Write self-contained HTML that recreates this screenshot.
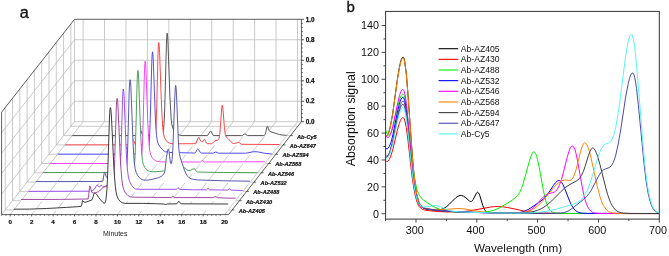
<!DOCTYPE html><html><head><meta charset="utf-8"><style>html,body{margin:0;padding:0;background:#fff;overflow:hidden}svg{display:block;will-change:transform}text{font-family:"Liberation Sans",sans-serif}</style></head><body>
<svg width="669" height="256" viewBox="0 0 669 256">
<g stroke="#b8b8b8" stroke-width="0.75" fill="none"><line x1="83.10" y1="121.70" x2="83.10" y2="19.30"/><line x1="104.54" y1="121.70" x2="104.54" y2="19.30"/><line x1="125.98" y1="121.70" x2="125.98" y2="19.30"/><line x1="147.42" y1="121.70" x2="147.42" y2="19.30"/><line x1="168.86" y1="121.70" x2="168.86" y2="19.30"/><line x1="190.30" y1="121.70" x2="190.30" y2="19.30"/><line x1="211.74" y1="121.70" x2="211.74" y2="19.30"/><line x1="233.18" y1="121.70" x2="233.18" y2="19.30"/><line x1="254.62" y1="121.70" x2="254.62" y2="19.30"/><line x1="276.06" y1="121.70" x2="276.06" y2="19.30"/><line x1="297.50" y1="121.70" x2="297.50" y2="19.30"/><line x1="74.50" y1="121.70" x2="301.40" y2="121.70"/><line x1="74.50" y1="101.22" x2="301.40" y2="101.22"/><line x1="74.50" y1="80.74" x2="301.40" y2="80.74"/><line x1="74.50" y1="60.26" x2="301.40" y2="60.26"/><line x1="74.50" y1="39.78" x2="301.40" y2="39.78"/><line x1="74.50" y1="121.70" x2="74.50" y2="19.30"/><line x1="5.25" y1="209.95" x2="5.25" y2="107.55"/><line x1="5.25" y1="209.95" x2="232.15" y2="209.95"/><line x1="12.54" y1="200.66" x2="12.54" y2="98.26"/><line x1="12.54" y1="200.66" x2="239.44" y2="200.66"/><line x1="19.83" y1="191.38" x2="19.83" y2="88.97"/><line x1="19.83" y1="191.38" x2="246.72" y2="191.38"/><line x1="27.12" y1="182.08" x2="27.12" y2="79.68"/><line x1="27.12" y1="182.08" x2="254.01" y2="182.08"/><line x1="34.41" y1="172.80" x2="34.41" y2="70.39"/><line x1="34.41" y1="172.80" x2="261.31" y2="172.80"/><line x1="41.70" y1="163.50" x2="41.70" y2="61.10"/><line x1="41.70" y1="163.50" x2="268.60" y2="163.50"/><line x1="48.98" y1="154.22" x2="48.98" y2="51.81"/><line x1="48.98" y1="154.22" x2="275.88" y2="154.22"/><line x1="56.27" y1="144.93" x2="56.27" y2="42.52"/><line x1="56.27" y1="144.93" x2="283.18" y2="144.93"/><line x1="63.57" y1="135.63" x2="63.57" y2="33.23"/><line x1="63.57" y1="135.63" x2="290.47" y2="135.63"/><line x1="70.85" y1="126.34" x2="70.85" y2="23.94"/><line x1="70.85" y1="126.34" x2="297.75" y2="126.34"/><line x1="1.60" y1="214.60" x2="74.50" y2="121.70"/><line x1="1.60" y1="194.12" x2="74.50" y2="101.22"/><line x1="1.60" y1="173.64" x2="74.50" y2="80.74"/><line x1="1.60" y1="153.16" x2="74.50" y2="60.26"/><line x1="1.60" y1="132.68" x2="74.50" y2="39.78"/><line x1="10.20" y1="214.60" x2="83.10" y2="121.70"/><line x1="31.64" y1="214.60" x2="104.54" y2="121.70"/><line x1="53.08" y1="214.60" x2="125.98" y2="121.70"/><line x1="74.52" y1="214.60" x2="147.42" y2="121.70"/><line x1="95.96" y1="214.60" x2="168.86" y2="121.70"/><line x1="117.40" y1="214.60" x2="190.30" y2="121.70"/><line x1="138.84" y1="214.60" x2="211.74" y2="121.70"/><line x1="160.28" y1="214.60" x2="233.18" y2="121.70"/><line x1="181.72" y1="214.60" x2="254.62" y2="121.70"/><line x1="203.16" y1="214.60" x2="276.06" y2="121.70"/><line x1="224.60" y1="214.60" x2="297.50" y2="121.70"/></g>
<g stroke="#333" stroke-width="0.8" fill="none"><line x1="1.60" y1="112.20" x2="74.50" y2="19.30"/><line x1="74.50" y1="19.30" x2="301.40" y2="19.30"/><line x1="1.60" y1="112.20" x2="1.60" y2="214.60"/><line x1="1.60" y1="214.60" x2="228.50" y2="214.60"/><line x1="228.50" y1="214.60" x2="301.40" y2="121.70"/><line x1="301.40" y1="121.70" x2="301.40" y2="19.30"/><line x1="1.62" y1="214.60" x2="1.62" y2="215.70"/><line x1="5.91" y1="214.60" x2="5.91" y2="215.70"/><line x1="10.20" y1="214.60" x2="10.20" y2="216.40"/><line x1="14.49" y1="214.60" x2="14.49" y2="215.70"/><line x1="18.78" y1="214.60" x2="18.78" y2="215.70"/><line x1="23.06" y1="214.60" x2="23.06" y2="215.70"/><line x1="27.35" y1="214.60" x2="27.35" y2="215.70"/><line x1="31.64" y1="214.60" x2="31.64" y2="216.40"/><line x1="35.93" y1="214.60" x2="35.93" y2="215.70"/><line x1="40.22" y1="214.60" x2="40.22" y2="215.70"/><line x1="44.50" y1="214.60" x2="44.50" y2="215.70"/><line x1="48.79" y1="214.60" x2="48.79" y2="215.70"/><line x1="53.08" y1="214.60" x2="53.08" y2="216.40"/><line x1="57.37" y1="214.60" x2="57.37" y2="215.70"/><line x1="61.66" y1="214.60" x2="61.66" y2="215.70"/><line x1="65.94" y1="214.60" x2="65.94" y2="215.70"/><line x1="70.23" y1="214.60" x2="70.23" y2="215.70"/><line x1="74.52" y1="214.60" x2="74.52" y2="216.40"/><line x1="78.81" y1="214.60" x2="78.81" y2="215.70"/><line x1="83.10" y1="214.60" x2="83.10" y2="215.70"/><line x1="87.38" y1="214.60" x2="87.38" y2="215.70"/><line x1="91.67" y1="214.60" x2="91.67" y2="215.70"/><line x1="95.96" y1="214.60" x2="95.96" y2="216.40"/><line x1="100.25" y1="214.60" x2="100.25" y2="215.70"/><line x1="104.54" y1="214.60" x2="104.54" y2="215.70"/><line x1="108.82" y1="214.60" x2="108.82" y2="215.70"/><line x1="113.11" y1="214.60" x2="113.11" y2="215.70"/><line x1="117.40" y1="214.60" x2="117.40" y2="216.40"/><line x1="121.69" y1="214.60" x2="121.69" y2="215.70"/><line x1="125.98" y1="214.60" x2="125.98" y2="215.70"/><line x1="130.26" y1="214.60" x2="130.26" y2="215.70"/><line x1="134.55" y1="214.60" x2="134.55" y2="215.70"/><line x1="138.84" y1="214.60" x2="138.84" y2="216.40"/><line x1="143.13" y1="214.60" x2="143.13" y2="215.70"/><line x1="147.42" y1="214.60" x2="147.42" y2="215.70"/><line x1="151.70" y1="214.60" x2="151.70" y2="215.70"/><line x1="155.99" y1="214.60" x2="155.99" y2="215.70"/><line x1="160.28" y1="214.60" x2="160.28" y2="216.40"/><line x1="164.57" y1="214.60" x2="164.57" y2="215.70"/><line x1="168.86" y1="214.60" x2="168.86" y2="215.70"/><line x1="173.14" y1="214.60" x2="173.14" y2="215.70"/><line x1="177.43" y1="214.60" x2="177.43" y2="215.70"/><line x1="181.72" y1="214.60" x2="181.72" y2="216.40"/><line x1="186.01" y1="214.60" x2="186.01" y2="215.70"/><line x1="190.30" y1="214.60" x2="190.30" y2="215.70"/><line x1="194.58" y1="214.60" x2="194.58" y2="215.70"/><line x1="198.87" y1="214.60" x2="198.87" y2="215.70"/><line x1="203.16" y1="214.60" x2="203.16" y2="216.40"/><line x1="207.45" y1="214.60" x2="207.45" y2="215.70"/><line x1="211.74" y1="214.60" x2="211.74" y2="215.70"/><line x1="216.02" y1="214.60" x2="216.02" y2="215.70"/><line x1="220.31" y1="214.60" x2="220.31" y2="215.70"/><line x1="301.40" y1="121.70" x2="304.00" y2="121.70"/><line x1="301.40" y1="117.60" x2="302.70" y2="117.60"/><line x1="301.40" y1="113.51" x2="302.70" y2="113.51"/><line x1="301.40" y1="109.41" x2="302.70" y2="109.41"/><line x1="301.40" y1="105.32" x2="302.70" y2="105.32"/><line x1="301.40" y1="101.22" x2="304.00" y2="101.22"/><line x1="301.40" y1="97.12" x2="302.70" y2="97.12"/><line x1="301.40" y1="93.03" x2="302.70" y2="93.03"/><line x1="301.40" y1="88.93" x2="302.70" y2="88.93"/><line x1="301.40" y1="84.84" x2="302.70" y2="84.84"/><line x1="301.40" y1="80.74" x2="304.00" y2="80.74"/><line x1="301.40" y1="76.64" x2="302.70" y2="76.64"/><line x1="301.40" y1="72.55" x2="302.70" y2="72.55"/><line x1="301.40" y1="68.45" x2="302.70" y2="68.45"/><line x1="301.40" y1="64.36" x2="302.70" y2="64.36"/><line x1="301.40" y1="60.26" x2="304.00" y2="60.26"/><line x1="301.40" y1="56.16" x2="302.70" y2="56.16"/><line x1="301.40" y1="52.07" x2="302.70" y2="52.07"/><line x1="301.40" y1="47.97" x2="302.70" y2="47.97"/><line x1="301.40" y1="43.88" x2="302.70" y2="43.88"/><line x1="301.40" y1="39.78" x2="304.00" y2="39.78"/><line x1="301.40" y1="35.68" x2="302.70" y2="35.68"/><line x1="301.40" y1="31.59" x2="302.70" y2="31.59"/><line x1="301.40" y1="27.49" x2="302.70" y2="27.49"/><line x1="301.40" y1="23.40" x2="302.70" y2="23.40"/><line x1="301.40" y1="19.30" x2="304.00" y2="19.30"/><line x1="232.15" y1="209.95" x2="234.34" y2="209.95"/><line x1="239.44" y1="200.66" x2="241.63" y2="200.66"/><line x1="246.72" y1="191.38" x2="248.92" y2="191.38"/><line x1="254.01" y1="182.08" x2="256.21" y2="182.08"/><line x1="261.31" y1="172.80" x2="263.50" y2="172.80"/><line x1="268.60" y1="163.50" x2="270.80" y2="163.50"/><line x1="275.88" y1="154.22" x2="278.08" y2="154.22"/><line x1="283.18" y1="144.93" x2="285.38" y2="144.93"/><line x1="290.47" y1="135.63" x2="292.67" y2="135.63"/></g>
<g font-size="6.2" font-weight="bold" fill="#111" stroke="#111" stroke-width="0.2"><text x="10.20" y="223.9" text-anchor="middle">0</text><text x="31.64" y="223.9" text-anchor="middle">2</text><text x="53.08" y="223.9" text-anchor="middle">4</text><text x="74.52" y="223.9" text-anchor="middle">6</text><text x="95.96" y="223.9" text-anchor="middle">8</text><text x="117.40" y="223.9" text-anchor="middle">10</text><text x="138.84" y="223.9" text-anchor="middle">12</text><text x="160.28" y="223.9" text-anchor="middle">14</text><text x="181.72" y="223.9" text-anchor="middle">16</text><text x="203.16" y="223.9" text-anchor="middle">18</text><text x="224.60" y="223.9" text-anchor="middle">20</text></g>
<g font-size="6.3" font-weight="bold" fill="#111" stroke="#111" stroke-width="0.25"><text x="305.8" y="123.90">0.0</text><text x="305.8" y="103.42">0.2</text><text x="305.8" y="82.94">0.4</text><text x="305.8" y="62.46">0.6</text><text x="305.8" y="41.98">0.8</text><text x="305.8" y="21.50">1.0</text></g>
<g font-size="5.6" font-weight="bold" font-style="italic" fill="#111" stroke="#111" stroke-width="0.2"><text x="238.75" y="212.85">Ab-AZ405</text><text x="246.03" y="203.56">Ab-AZ430</text><text x="253.32" y="194.28">Ab-AZ488</text><text x="260.62" y="184.98">Ab-AZ532</text><text x="267.91" y="175.70">Ab-AZ546</text><text x="275.20" y="166.41">Ab-AZ568</text><text x="282.49" y="157.12">Ab-AZ594</text><text x="289.78" y="147.83">Ab-AZ647</text><text x="297.07" y="138.53">Ab-Cy5</text></g>
<text x="103" y="235.8" font-size="7" fill="#222">Minutes</text>
<text x="19.8" y="17.6" font-size="16.3" fill="#111" stroke="#111" stroke-width="0.35">a</text>
<g><path d="M72.2 135.6L138.6 135.6L139.2 134.9L140.4 131.3L140.9 130.6L141.4 131.6L142.5 135.1L142.9 135.6L160.1 135.0L161.5 134.8L162.3 134.3L163.0 132.8L163.6 129.7L164.4 118.0L165.0 98.5L166.4 45.1L166.8 35.6L166.9 34.0L167.2 33.2L167.6 36.2L168.0 43.4L169.9 96.8L171.1 118.1L171.7 123.9L172.7 127.9L174.1 130.9L176.4 133.4L177.6 134.3L179.0 134.9L181.9 135.6L207.2 135.6L208.0 135.0L209.9 131.5L210.6 131.0L211.4 131.8L213.0 135.1L213.7 135.6L241.5 135.6L242.2 135.5L244.0 134.3L244.8 134.0L245.4 134.2L247.2 135.4L247.8 135.6L263.4 135.6L264.5 135.3L265.1 134.4L265.7 132.8L266.9 127.0L267.1 126.4L267.4 126.2L267.8 126.8L269.0 130.5L269.4 131.1L269.9 131.5L279.6 134.6L282.8 135.1L286.6 135.3 L286.56,136.44 L72.17,136.44 Z" fill="#fff" stroke="none"/><path d="M72.2 135.6L138.6 135.6L139.2 134.9L140.4 131.3L140.9 130.6L141.4 131.6L142.5 135.1L142.9 135.6L160.1 135.0L161.5 134.8L162.3 134.3L163.0 132.8L163.6 129.7L164.4 118.0L165.0 98.5L166.4 45.1L166.8 35.6L166.9 34.0L167.2 33.2L167.6 36.2L168.0 43.4L169.9 96.8L171.1 118.1L171.7 123.9L172.7 127.9L174.1 130.9L176.4 133.4L177.6 134.3L179.0 134.9L181.9 135.6L207.2 135.6L208.0 135.0L209.9 131.5L210.6 131.0L211.4 131.8L213.0 135.1L213.7 135.6L241.5 135.6L242.2 135.5L244.0 134.3L244.8 134.0L245.4 134.2L247.2 135.4L247.8 135.6L263.4 135.6L264.5 135.3L265.1 134.4L265.7 132.8L266.9 127.0L267.1 126.4L267.4 126.2L267.8 126.8L269.0 130.5L269.4 131.1L269.9 131.5L279.6 134.6L282.8 135.1L286.6 135.3" fill="none" stroke="#444444" stroke-width="0.9" stroke-linejoin="round"/><path d="M64.9 144.9L131.3 144.9L131.7 144.5L132.8 141.4L133.3 140.6L133.9 141.2L135.1 144.3L135.6 144.9L142.2 144.8L151.8 144.2L153.2 144.0L154.0 143.5L154.7 142.0L155.2 138.9L156.0 127.2L156.7 107.7L158.0 54.4L158.4 44.9L158.5 43.3L158.8 42.5L159.2 45.5L159.6 52.6L161.5 106.0L162.7 127.4L163.4 133.1L164.3 137.2L165.6 139.9L167.5 142.1L169.7 143.3L172.6 143.8L195.7 143.7L196.3 142.9L197.9 138.4L198.6 137.6L199.1 137.9L200.6 140.9L201.3 141.5L202.6 141.8L203.8 139.7L204.4 139.4L205.0 140.1L206.5 142.9L207.2 143.7L211.2 143.8L212.3 143.3L215.0 140.8L217.4 140.4L218.0 140.1L218.6 139.5L219.1 138.2L219.8 134.2L221.7 108.9L222.1 105.7L222.3 105.2L222.6 106.1L223.0 109.7L224.5 129.2L225.3 134.6L225.7 135.9L226.3 137.1L228.2 138.7L230.9 141.7L232.2 142.9L233.2 143.4L234.0 143.5L238.7 142.4L239.3 142.7L241.1 144.1L241.8 144.3L279.3 144.5 L279.27,145.73 L64.88,145.73 Z" fill="#fff" stroke="none"/><path d="M64.9 144.9L131.3 144.9L131.7 144.5L132.8 141.4L133.3 140.6L133.9 141.2L135.1 144.3L135.6 144.9L142.2 144.8L151.8 144.2L153.2 144.0L154.0 143.5L154.7 142.0L155.2 138.9L156.0 127.2L156.7 107.7L158.0 54.4L158.4 44.9L158.5 43.3L158.8 42.5L159.2 45.5L159.6 52.6L161.5 106.0L162.7 127.4L163.4 133.1L164.3 137.2L165.6 139.9L167.5 142.1L169.7 143.3L172.6 143.8L195.7 143.7L196.3 142.9L197.9 138.4L198.6 137.6L199.1 137.9L200.6 140.9L201.3 141.5L202.6 141.8L203.8 139.7L204.4 139.4L205.0 140.1L206.5 142.9L207.2 143.7L211.2 143.8L212.3 143.3L215.0 140.8L217.4 140.4L218.0 140.1L218.6 139.5L219.1 138.2L219.8 134.2L221.7 108.9L222.1 105.7L222.3 105.2L222.6 106.1L223.0 109.7L224.5 129.2L225.3 134.6L225.7 135.9L226.3 137.1L228.2 138.7L230.9 141.7L232.2 142.9L233.2 143.4L234.0 143.5L238.7 142.4L239.3 142.7L241.1 144.1L241.8 144.3L279.3 144.5" fill="none" stroke="#f83434" stroke-width="0.9" stroke-linejoin="round"/><path d="M57.6 154.2L124.3 154.2L124.6 154.0L124.9 153.3L125.9 148.4L126.5 147.1L126.7 147.2L127.0 147.8L128.3 153.3L128.9 154.2L145.4 153.6L146.8 153.4L147.6 152.9L148.3 151.5L148.8 148.5L149.6 137.2L150.3 118.2L151.7 64.9L152.1 54.9L152.5 51.8L152.9 54.2L153.3 60.9L155.3 116.1L155.8 126.6L156.5 135.3L157.3 140.8L158.2 143.9L160.2 147.1L162.9 150.1L164.2 151.1L165.7 151.8L167.3 152.2L169.2 152.5L194.8 153.0L195.5 152.5L197.1 149.5L197.7 149.1L198.6 149.7L200.4 152.6L201.2 153.1L213.2 153.2L215.3 152.1L216.0 152.0L218.4 153.2L245.5 153.2L247.7 152.9L252.8 151.8L255.1 151.7L257.9 151.9L264.2 153.2L272.0 154.0 L271.99,155.02 L57.58,155.02 Z" fill="#fff" stroke="none"/><path d="M57.6 154.2L124.3 154.2L124.6 154.0L124.9 153.3L125.9 148.4L126.5 147.1L126.7 147.2L127.0 147.8L128.3 153.3L128.9 154.2L145.4 153.6L146.8 153.4L147.6 152.9L148.3 151.5L148.8 148.5L149.6 137.2L150.3 118.2L151.7 64.9L152.1 54.9L152.5 51.8L152.9 54.2L153.3 60.9L155.3 116.1L155.8 126.6L156.5 135.3L157.3 140.8L158.2 143.9L160.2 147.1L162.9 150.1L164.2 151.1L165.7 151.8L167.3 152.2L169.2 152.5L194.8 153.0L195.5 152.5L197.1 149.5L197.7 149.1L198.6 149.7L200.4 152.6L201.2 153.1L213.2 153.2L215.3 152.1L216.0 152.0L218.4 153.2L245.5 153.2L247.7 152.9L252.8 151.8L255.1 151.7L257.9 151.9L264.2 153.2L272.0 154.0" fill="none" stroke="#3c3cf8" stroke-width="0.9" stroke-linejoin="round"/><path d="M50.3 163.5L116.8 163.5L117.2 163.0L118.4 159.2L118.9 158.4L119.3 158.9L120.5 162.7L121.0 163.5L137.9 162.9L139.5 162.7L140.3 162.2L141.0 160.8L141.5 157.9L142.4 146.6L143.0 127.5L144.4 74.0L144.8 64.0L145.2 61.1L145.6 63.7L146.0 70.5L147.8 123.6L149.1 145.0L149.7 150.7L150.7 154.7L152.1 157.5L154.3 159.9L155.8 160.9L157.4 161.5L159.4 161.8L162.2 161.9L200.4 162.0L200.8 161.8L202.3 160.4L202.8 160.6L204.1 161.8L204.7 162.0L264.7 161.7 L264.69,164.31 L50.30,164.31 Z" fill="#fff" stroke="none"/><path d="M50.3 163.5L116.8 163.5L117.2 163.0L118.4 159.2L118.9 158.4L119.3 158.9L120.5 162.7L121.0 163.5L137.9 162.9L139.5 162.7L140.3 162.2L141.0 160.8L141.5 157.9L142.4 146.6L143.0 127.5L144.4 74.0L144.8 64.0L145.2 61.1L145.6 63.7L146.0 70.5L147.8 123.6L149.1 145.0L149.7 150.7L150.7 154.7L152.1 157.5L154.3 159.9L155.8 160.9L157.4 161.5L159.4 161.8L162.2 161.9L200.4 162.0L200.8 161.8L202.3 160.4L202.8 160.6L204.1 161.8L204.7 162.0L264.7 161.7" fill="none" stroke="#f035f0" stroke-width="0.9" stroke-linejoin="round"/><path d="M43.0 172.5L109.5 172.5L110.0 171.7L111.2 168.1L111.6 167.7L112.0 168.1L113.2 171.7L113.8 172.5L131.0 172.4L132.4 172.2L133.1 171.8L133.7 170.4L134.3 167.5L135.1 156.2L135.7 137.0L137.1 83.3L137.5 73.3L137.9 70.4L138.3 73.0L138.7 79.9L140.6 133.2L141.8 154.8L142.4 160.5L143.4 164.6L144.8 167.4L147.0 169.9L148.2 170.7L149.4 171.3L152.3 171.8L156.0 171.7L164.4 171.0L181.3 171.3L182.1 170.8L184.0 168.1L184.8 167.7L185.4 168.2L186.9 170.1L188.8 170.6L190.1 170.5L193.1 168.9L194.3 168.7L195.0 169.3L196.6 171.5L197.4 172.0L223.4 172.5L257.4 172.7 L257.40,173.60 L43.00,173.60 Z" fill="#fff" stroke="none"/><path d="M43.0 172.5L109.5 172.5L110.0 171.7L111.2 168.1L111.6 167.7L112.0 168.1L113.2 171.7L113.8 172.5L131.0 172.4L132.4 172.2L133.1 171.8L133.7 170.4L134.3 167.5L135.1 156.2L135.7 137.0L137.1 83.3L137.5 73.3L137.9 70.4L138.3 73.0L138.7 79.9L140.6 133.2L141.8 154.8L142.4 160.5L143.4 164.6L144.8 167.4L147.0 169.9L148.2 170.7L149.4 171.3L152.3 171.8L156.0 171.7L164.4 171.0L181.3 171.3L182.1 170.8L184.0 168.1L184.8 167.7L185.4 168.2L186.9 170.1L188.8 170.6L190.1 170.5L193.1 168.9L194.3 168.7L195.0 169.3L196.6 171.5L197.4 172.0L223.4 172.5L257.4 172.7" fill="none" stroke="#389846" stroke-width="0.9" stroke-linejoin="round"/><path d="M35.7 181.6L102.4 181.5L102.7 181.2L103.0 180.2L104.2 173.2L104.6 172.5L105.0 173.1L106.1 176.4L107.4 178.3L108.3 179.0L123.1 179.0L124.3 178.9L125.0 178.4L125.6 177.1L126.2 174.4L127.1 162.1L127.8 144.3L129.2 91.2L129.6 82.5L130.1 79.7L130.5 81.6L130.9 87.4L133.0 142.1L133.7 154.5L134.3 162.8L135.1 168.6L136.2 172.5L137.8 175.6L139.0 177.1L140.2 178.3L142.0 179.5L143.7 180.1L145.7 180.2L148.4 180.0L152.7 179.2L158.3 177.8L161.0 176.6L162.7 175.3L163.8 173.8L164.8 171.8L166.4 157.3L167.6 151.0L168.0 149.6L168.4 149.0L168.6 149.3L168.9 150.6L170.4 162.5L170.9 163.7L171.2 163.8L171.5 163.4L172.1 159.6L172.8 150.1L174.8 97.2L175.3 87.9L175.7 85.4L176.1 88.0L176.5 95.2L178.3 139.7L178.8 148.2L179.4 153.4L180.3 158.0L184.1 169.1L185.8 173.3L187.5 176.2L189.1 177.8L191.0 178.8L193.4 179.4L197.3 179.9L223.6 180.8L250.1 181.2 L250.12,182.88 L35.72,182.88 Z" fill="#fff" stroke="none"/><path d="M35.7 181.6L102.4 181.5L102.7 181.2L103.0 180.2L104.2 173.2L104.6 172.5L105.0 173.1L106.1 176.4L107.4 178.3L108.3 179.0L123.1 179.0L124.3 178.9L125.0 178.4L125.6 177.1L126.2 174.4L127.1 162.1L127.8 144.3L129.2 91.2L129.6 82.5L130.1 79.7L130.5 81.6L130.9 87.4L133.0 142.1L133.7 154.5L134.3 162.8L135.1 168.6L136.2 172.5L137.8 175.6L139.0 177.1L140.2 178.3L142.0 179.5L143.7 180.1L145.7 180.2L148.4 180.0L152.7 179.2L158.3 177.8L161.0 176.6L162.7 175.3L163.8 173.8L164.8 171.8L166.4 157.3L167.6 151.0L168.0 149.6L168.4 149.0L168.6 149.3L168.9 150.6L170.4 162.5L170.9 163.7L171.2 163.8L171.5 163.4L172.1 159.6L172.8 150.1L174.8 97.2L175.3 87.9L175.7 85.4L176.1 88.0L176.5 95.2L178.3 139.7L178.8 148.2L179.4 153.4L180.3 158.0L184.1 169.1L185.8 173.3L187.5 176.2L189.1 177.8L191.0 178.8L193.4 179.4L197.3 179.9L223.6 180.8L250.1 181.2" fill="none" stroke="#4646a6" stroke-width="0.9" stroke-linejoin="round"/><path d="M28.4 191.4L91.7 191.2L92.5 190.9L93.5 189.9L95.2 187.9L96.6 185.4L97.2 184.9L97.6 185.1L98.5 186.6L98.9 187.0L99.6 186.8L100.9 185.6L101.6 185.3L102.0 185.5L103.1 186.6L103.5 186.8L104.3 186.6L106.7 185.3L112.7 185.2L117.3 185.8L117.9 185.7L118.3 185.4L119.0 183.8L119.5 180.7L120.3 169.7L121.0 152.3L122.5 100.2L122.9 91.7L123.3 89.0L123.7 90.9L124.1 96.6L126.2 150.7L126.9 163.0L127.6 171.2L128.4 177.0L129.6 181.4L131.3 184.8L132.8 186.8L134.2 188.2L135.6 189.0L138.4 189.3L176.4 189.3L178.0 187.6L178.4 187.9L179.4 189.3L182.0 189.4L192.6 189.8L206.4 189.8L208.0 188.3L209.6 189.8L227.8 190.1L228.9 189.0L229.3 188.8L231.0 190.1L242.8 190.5 L242.82,192.18 L28.43,192.18 Z" fill="#fff" stroke="none"/><path d="M28.4 191.4L91.7 191.2L92.5 190.9L93.5 189.9L95.2 187.9L96.6 185.4L97.2 184.9L97.6 185.1L98.5 186.6L98.9 187.0L99.6 186.8L100.9 185.6L101.6 185.3L102.0 185.5L103.1 186.6L103.5 186.8L104.3 186.6L106.7 185.3L112.7 185.2L117.3 185.8L117.9 185.7L118.3 185.4L119.0 183.8L119.5 180.7L120.3 169.7L121.0 152.3L122.5 100.2L122.9 91.7L123.3 89.0L123.7 90.9L124.1 96.6L126.2 150.7L126.9 163.0L127.6 171.2L128.4 177.0L129.6 181.4L131.3 184.8L132.8 186.8L134.2 188.2L135.6 189.0L138.4 189.3L176.4 189.3L178.0 187.6L178.4 187.9L179.4 189.3L182.0 189.4L192.6 189.8L206.4 189.8L208.0 188.3L209.6 189.8L227.8 190.1L228.9 189.0L229.3 188.8L231.0 190.1L242.8 190.5" fill="none" stroke="#9040ee" stroke-width="0.9" stroke-linejoin="round"/><path d="M21.1 199.5L59.6 199.4L88.1 199.0L88.5 197.2L89.5 187.5L89.9 185.9L90.4 187.1L91.6 192.0L91.9 192.5L93.1 193.0L95.6 192.7L98.7 191.6L99.5 191.0L101.8 188.4L103.8 187.1L105.2 186.7L106.5 186.7L108.1 187.3L110.2 188.4L111.7 189.9L112.3 189.9L112.8 188.6L113.2 186.2L114.0 175.6L114.7 159.4L116.3 108.0L116.7 100.6L117.1 98.3L117.5 99.8L118.0 106.5L120.4 160.8L121.8 179.4L122.6 185.1L123.6 189.3L125.3 192.6L127.4 195.1L128.9 196.1L130.6 196.8L132.4 197.1L134.9 197.2L171.2 197.6L172.7 196.1L173.1 196.2L174.0 197.4L174.4 197.6L213.0 197.6L215.2 196.6L217.4 197.6L225.8 198.1L235.5 198.2 L235.53,201.47 L21.13,201.47 Z" fill="#fff" stroke="none"/><path d="M21.1 199.5L59.6 199.4L88.1 199.0L88.5 197.2L89.5 187.5L89.9 185.9L90.4 187.1L91.6 192.0L91.9 192.5L93.1 193.0L95.6 192.7L98.7 191.6L99.5 191.0L101.8 188.4L103.8 187.1L105.2 186.7L106.5 186.7L108.1 187.3L110.2 188.4L111.7 189.9L112.3 189.9L112.8 188.6L113.2 186.2L114.0 175.6L114.7 159.4L116.3 108.0L116.7 100.6L117.1 98.3L117.5 99.8L118.0 106.5L120.4 160.8L121.8 179.4L122.6 185.1L123.6 189.3L125.3 192.6L127.4 195.1L128.9 196.1L130.6 196.8L132.4 197.1L134.9 197.2L171.2 197.6L172.7 196.1L173.1 196.2L174.0 197.4L174.4 197.6L213.0 197.6L215.2 196.6L217.4 197.6L225.8 198.1L235.5 198.2" fill="none" stroke="#963696" stroke-width="0.9" stroke-linejoin="round"/><path d="M13.8 209.2L29.7 209.1L46.4 208.5L66.4 207.4L77.6 206.7L80.0 206.4L81.4 206.1L81.5 205.8L82.5 200.5L83.0 200.9L84.1 202.1L84.6 202.3L86.2 202.0L91.7 200.1L92.4 198.8L94.0 193.8L94.6 193.0L95.5 193.2L96.4 194.1L99.7 198.9L102.8 202.3L104.0 203.2L104.6 203.2L105.0 202.9L105.5 201.7L106.0 199.2L107.0 188.5L107.8 170.1L109.4 120.0L109.9 109.9L110.3 107.6L110.6 107.9L110.9 109.5L111.4 116.0L113.8 166.0L114.5 176.9L115.3 186.3L116.1 192.2L117.2 196.6L118.5 199.4L120.5 201.7L122.7 202.9L125.3 203.4L142.6 203.4L155.6 203.7L163.9 204.0L165.7 204.6L167.1 204.0L176.8 203.8L177.2 203.5L178.3 201.7L178.8 201.3L179.3 201.6L180.5 203.4L181.1 203.8L228.2 204.0 L228.25,210.75 L13.84,210.75 Z" fill="#fff" stroke="none"/><path d="M13.8 209.2L29.7 209.1L46.4 208.5L66.4 207.4L77.6 206.7L80.0 206.4L81.4 206.1L81.5 205.8L82.5 200.5L83.0 200.9L84.1 202.1L84.6 202.3L86.2 202.0L91.7 200.1L92.4 198.8L94.0 193.8L94.6 193.0L95.5 193.2L96.4 194.1L99.7 198.9L102.8 202.3L104.0 203.2L104.6 203.2L105.0 202.9L105.5 201.7L106.0 199.2L107.0 188.5L107.8 170.1L109.4 120.0L109.9 109.9L110.3 107.6L110.6 107.9L110.9 109.5L111.4 116.0L113.8 166.0L114.5 176.9L115.3 186.3L116.1 192.2L117.2 196.6L118.5 199.4L120.5 201.7L122.7 202.9L125.3 203.4L142.6 203.4L155.6 203.7L163.9 204.0L165.7 204.6L167.1 204.0L176.8 203.8L177.2 203.5L178.3 201.7L178.8 201.3L179.3 201.6L180.5 203.4L181.1 203.8L228.2 204.0" fill="none" stroke="#262626" stroke-width="0.9" stroke-linejoin="round"/></g>
<rect x="385.60" y="11.40" width="273.70" height="207.70" fill="none" stroke="#333" stroke-width="1"/><g stroke="#333" stroke-width="0.9"><line x1="381.60" y1="213.75" x2="385.60" y2="213.75"/><line x1="383.40" y1="200.30" x2="385.60" y2="200.30"/><line x1="381.60" y1="186.86" x2="385.60" y2="186.86"/><line x1="383.40" y1="173.41" x2="385.60" y2="173.41"/><line x1="381.60" y1="159.97" x2="385.60" y2="159.97"/><line x1="383.40" y1="146.52" x2="385.60" y2="146.52"/><line x1="381.60" y1="133.07" x2="385.60" y2="133.07"/><line x1="383.40" y1="119.63" x2="385.60" y2="119.63"/><line x1="381.60" y1="106.18" x2="385.60" y2="106.18"/><line x1="383.40" y1="92.74" x2="385.60" y2="92.74"/><line x1="381.60" y1="79.29" x2="385.60" y2="79.29"/><line x1="383.40" y1="65.84" x2="385.60" y2="65.84"/><line x1="381.60" y1="52.40" x2="385.60" y2="52.40"/><line x1="383.40" y1="38.95" x2="385.60" y2="38.95"/><line x1="381.60" y1="25.51" x2="385.60" y2="25.51"/><line x1="385.59" y1="219.10" x2="385.59" y2="221.10"/><line x1="416.00" y1="219.10" x2="416.00" y2="222.70"/><line x1="446.41" y1="219.10" x2="446.41" y2="221.10"/><line x1="476.82" y1="219.10" x2="476.82" y2="222.70"/><line x1="507.24" y1="219.10" x2="507.24" y2="221.10"/><line x1="537.65" y1="219.10" x2="537.65" y2="222.70"/><line x1="568.06" y1="219.10" x2="568.06" y2="221.10"/><line x1="598.48" y1="219.10" x2="598.48" y2="222.70"/><line x1="628.89" y1="219.10" x2="628.89" y2="221.10"/><line x1="659.30" y1="219.10" x2="659.30" y2="222.70"/></g><g font-size="10.8" fill="#111"><text x="379" y="217.55" text-anchor="end">0</text><text x="379" y="190.66" text-anchor="end">20</text><text x="379" y="163.77" text-anchor="end">40</text><text x="379" y="136.87" text-anchor="end">60</text><text x="379" y="109.98" text-anchor="end">80</text><text x="379" y="83.09" text-anchor="end">100</text><text x="379" y="56.20" text-anchor="end">120</text><text x="379" y="29.31" text-anchor="end">140</text><text x="414.80" y="234.3" text-anchor="middle">300</text><text x="475.62" y="234.3" text-anchor="middle">400</text><text x="536.45" y="234.3" text-anchor="middle">500</text><text x="597.27" y="234.3" text-anchor="middle">600</text><text x="658.10" y="234.3" text-anchor="middle">700</text></g><text x="474" y="251.8" font-size="11.65" fill="#111">Wavelength (nm)</text><text transform="translate(355,166.3) rotate(-90)" font-size="12.4" fill="#111">Absorption signal</text><text x="346.6" y="11.6" font-size="15" fill="#111" stroke="#111" stroke-width="0.3">b</text>
<clipPath id="cb"><rect x="385.60" y="11.40" width="273.70" height="207.70"/></clipPath><g clip-path="url(#cb)"><path d="M385.6 135.5L386.5 135.8L387.1 135.5L387.7 134.8L388.9 132.0L390.1 127.6L392.6 114.3L397.4 79.3L399.3 67.9L400.5 62.2L401.4 59.3L402.3 57.6L402.9 57.2L403.2 57.2L403.8 57.9L404.1 58.6L404.7 61.2L406.3 73.5L407.8 92.0L412.4 156.9L413.9 173.6L415.1 184.0L416.6 193.6L418.4 200.8L419.3 203.2L420.6 205.3L421.8 206.8L423.0 207.7L424.5 208.4L426.6 209.1L432.7 210.0L437.6 210.1L441.5 209.3L444.0 208.3L446.4 206.8L449.1 204.4L455.8 197.7L458.0 196.2L460.1 195.4L461.6 195.5L463.4 196.1L465.3 197.3L469.5 201.0L470.4 201.4L471.4 201.4L472.3 200.8L473.2 199.6L476.5 193.0L477.1 192.4L477.7 192.2L478.6 193.0L479.6 194.9L482.9 205.8L484.4 209.4L485.3 210.8L486.6 211.9L487.8 212.5L489.3 212.8L499.6 213.1L535.5 213.4L659.3 213.6" fill="none" stroke="#000000" stroke-width="1.0" stroke-linejoin="round"/><path d="M385.6 160.8L386.2 161.3L386.8 161.5L387.4 161.4L388.0 161.1L389.2 159.6L390.5 157.0L392.9 149.2L397.4 130.1L399.3 123.5L400.5 120.3L401.4 118.6L402.3 117.7L403.2 117.6L403.8 118.0L404.1 118.5L404.7 120.1L406.3 127.6L407.8 139.0L412.0 176.1L413.6 186.7L415.1 194.9L416.6 200.8L418.4 205.2L419.3 206.7L420.6 208.0L421.8 208.9L423.3 209.6L425.4 210.2L428.2 210.6L437.9 211.5L448.5 212.0L458.0 211.9L464.1 211.5L469.8 210.8L490.2 207.1L494.5 206.6L498.4 206.5L502.7 206.8L507.5 207.5L523.1 210.8L529.7 212.0L536.4 212.8L543.7 213.2L564.4 213.5L659.3 213.6" fill="none" stroke="#ff0000" stroke-width="1.0" stroke-linejoin="round"/><path d="M385.6 130.0L386.8 133.2L388.0 134.8L388.6 135.0L389.2 134.8L389.8 134.3L390.8 132.9L392.0 129.9L393.2 125.9L398.1 105.2L399.9 98.8L401.1 95.8L402.0 94.4L402.9 94.0L403.8 94.5L404.4 95.8L405.4 99.5L406.9 109.9L411.4 154.3L413.6 172.0L415.4 182.8L417.2 190.1L418.4 193.4L419.6 195.7L421.2 197.8L423.3 199.9L427.6 202.9L433.0 206.3L437.0 208.3L440.9 209.7L444.0 210.6L447.3 211.2L455.8 212.0L472.3 212.5L478.3 212.5L483.2 212.3L489.3 211.4L494.5 210.0L499.6 207.8L505.1 204.7L512.4 200.0L515.4 197.7L517.9 195.2L519.7 192.4L521.5 188.4L523.4 182.9L529.4 161.1L531.0 156.3L532.5 152.9L533.4 151.9L534.0 151.7L534.9 152.3L535.8 153.8L536.7 156.3L537.6 159.8L539.2 167.1L543.4 190.5L544.9 197.4L546.2 201.9L547.4 205.4L548.9 208.5L550.7 210.9L552.6 212.2L554.1 212.8L555.6 213.1L560.8 213.4L659.3 213.5" fill="none" stroke="#00ee00" stroke-width="1.0" stroke-linejoin="round"/><path d="M385.6 147.9L386.2 148.6L386.8 148.8L387.4 148.8L388.0 148.4L389.2 146.7L390.5 143.8L391.7 139.7L392.9 134.7L397.4 112.2L399.3 104.4L400.2 101.4L401.1 99.2L402.0 97.8L402.9 97.4L403.8 98.0L404.7 100.6L406.3 109.6L407.8 123.1L412.0 167.5L413.6 180.3L415.1 190.1L416.6 197.1L418.4 202.4L419.3 204.2L420.6 205.8L421.8 206.9L423.3 207.8L425.1 208.5L427.6 209.0L435.5 210.2L446.1 211.1L459.2 211.9L480.8 212.6L507.5 213.1L515.8 212.9L520.9 212.3L524.9 211.1L528.8 209.2L540.1 201.6L543.1 199.3L545.6 197.0L547.7 194.3L553.5 185.3L555.3 182.9L557.1 181.2L558.0 180.7L558.9 180.6L559.9 180.8L560.8 181.4L561.7 182.4L562.9 184.5L564.7 188.5L569.6 201.1L571.1 204.4L572.6 207.0L574.1 209.1L575.7 210.7L577.2 211.7L579.0 212.5L582.4 213.2L587.5 213.4L659.3 213.5" fill="none" stroke="#0000ff" stroke-width="1.0" stroke-linejoin="round"/><path d="M385.6 135.2L386.8 137.2L387.4 137.6L388.0 137.7L388.6 137.4L389.2 136.7L390.5 134.4L391.7 130.7L392.9 126.0L397.8 102.6L399.6 95.2L400.8 91.8L401.7 90.2L402.3 89.7L402.9 89.6L403.8 90.4L404.4 92.0L405.1 94.7L406.6 105.5L412.4 167.5L413.9 180.4L415.4 190.2L417.2 198.2L418.1 200.9L419.3 203.5L420.6 205.3L422.1 206.7L423.6 207.6L425.7 208.4L433.0 209.7L444.0 210.9L457.7 211.8L475.3 212.5L499.3 213.0L517.0 213.1L523.4 212.6L525.8 212.0L527.9 211.3L531.0 209.6L533.7 207.4L536.4 204.7L542.2 198.1L544.9 195.6L546.5 194.6L548.0 193.8L552.9 192.6L554.4 192.0L555.9 190.9L557.4 189.1L559.5 184.9L561.4 179.7L563.2 173.1L567.2 157.3L569.0 151.2L569.9 148.9L570.8 147.2L571.7 146.2L572.3 146.0L573.2 146.3L574.1 147.7L575.1 150.1L576.0 153.4L577.8 162.2L582.4 187.8L583.9 194.9L585.1 199.6L586.3 203.4L587.8 207.0L589.4 209.5L591.2 211.4L592.7 212.3L594.2 212.9L596.3 213.2L599.1 213.4L659.3 213.5" fill="none" stroke="#ff00ff" stroke-width="1.0" stroke-linejoin="round"/><path d="M385.6 135.5L386.5 135.8L387.1 135.5L387.7 134.8L388.9 132.0L390.1 127.6L392.6 114.5L397.4 79.8L399.3 68.6L400.5 63.0L401.4 60.0L402.3 58.4L402.9 58.0L403.2 58.1L403.8 58.7L404.1 59.4L404.7 62.0L406.3 74.1L407.8 92.5L412.4 156.8L413.9 173.4L415.1 183.7L416.6 193.2L418.4 200.4L419.3 202.7L420.6 204.9L421.8 206.3L423.0 207.2L425.1 208.2L427.9 208.8L431.8 209.4L436.4 209.7L443.1 209.6L456.1 208.6L461.9 208.7L466.8 209.3L481.7 211.9L487.8 212.5L494.8 212.8L509.4 213.0L518.5 212.8L524.9 212.0L527.6 211.3L530.0 210.5L532.8 209.2L535.2 207.8L537.6 205.9L540.1 203.8L544.3 199.1L553.8 187.4L556.2 184.9L558.3 183.0L561.1 181.3L564.1 180.0L565.6 179.9L568.7 180.5L569.9 180.5L571.1 180.0L572.3 178.9L573.8 176.2L575.7 171.1L580.5 151.8L582.1 146.7L583.6 143.5L584.2 142.9L584.8 142.7L585.7 143.2L586.9 144.8L588.1 147.6L589.4 151.4L591.5 160.0L597.3 186.7L600.3 197.8L601.8 202.0L603.3 205.3L604.9 207.8L606.7 210.0L608.5 211.4L610.3 212.3L612.8 213.0L615.8 213.3L622.8 213.5L659.3 213.5" fill="none" stroke="#ff8000" stroke-width="1.0" stroke-linejoin="round"/><path d="M385.6 155.9L386.5 156.2L387.1 156.1L387.7 155.7L388.9 153.9L390.1 151.0L392.6 142.3L397.4 118.9L399.3 111.3L400.5 107.5L401.4 105.6L402.3 104.5L403.2 104.4L403.8 104.8L404.1 105.4L404.7 107.2L406.3 115.6L407.8 128.4L412.0 170.1L413.6 182.1L415.1 191.4L416.6 198.0L418.4 203.0L419.3 204.6L420.6 206.2L421.8 207.2L423.3 208.0L426.0 208.8L430.0 209.5L444.3 211.0L462.2 212.0L485.3 212.7L510.0 213.1L522.4 212.9L527.0 212.6L530.7 212.1L534.0 211.4L537.3 210.4L541.9 208.4L546.5 205.4L551.6 201.0L561.1 191.4L565.0 187.7L569.0 185.0L576.9 180.7L579.3 178.7L581.4 175.6L583.3 171.6L585.1 166.4L588.4 155.6L590.0 151.5L591.5 148.7L592.1 148.1L592.7 147.9L593.3 148.0L593.9 148.5L595.1 150.2L596.3 152.8L597.6 156.1L600.0 164.7L605.8 188.0L607.6 194.4L609.1 198.8L610.6 202.6L612.2 205.6L613.7 207.9L615.2 209.7L617.0 211.1L618.9 212.1L621.3 212.8L624.0 213.2L631.0 213.5L659.3 213.5" fill="none" stroke="#404040" stroke-width="1.0" stroke-linejoin="round"/><path d="M385.6 157.4L386.2 157.5L386.8 157.3L387.7 156.5L388.9 154.4L390.1 151.1L392.6 141.6L397.4 116.7L399.3 108.7L400.5 104.6L401.4 102.6L402.3 101.4L403.2 101.2L403.8 101.6L404.1 102.2L404.7 104.0L406.3 112.6L407.8 125.8L412.0 169.0L413.6 181.4L414.8 189.3L416.3 196.6L417.8 201.5L419.6 205.0L420.6 206.2L421.8 207.2L423.6 208.2L426.0 208.9L435.8 210.3L451.0 211.5L470.4 212.3L504.5 213.0L552.6 213.3L560.8 213.0L563.5 212.6L565.9 211.9L569.0 210.6L572.3 208.4L583.6 199.4L586.6 196.6L589.0 193.6L591.2 190.4L598.2 176.9L600.9 172.5L602.4 170.8L603.9 169.6L605.5 168.9L608.5 167.8L610.0 167.0L611.6 165.4L613.1 162.8L614.6 159.0L615.8 154.9L618.2 144.0L620.7 129.9L625.8 96.1L628.3 83.2L629.5 78.4L630.7 75.0L631.9 73.2L632.8 73.0L633.1 73.2L633.8 74.2L634.7 77.3L635.6 82.1L636.5 88.4L638.3 104.7L644.1 164.4L646.2 181.6L648.0 192.7L650.2 201.7L651.4 205.2L652.6 207.8L653.8 209.7L655.3 211.3L657.2 212.4L659.3 213.0" fill="none" stroke="#4b4ba8" stroke-width="1.0" stroke-linejoin="round"/><path d="M385.6 158.5L386.2 158.8L386.8 158.7L387.7 158.1L388.9 156.2L390.1 153.3L392.6 144.6L397.4 121.6L399.3 114.2L400.5 110.5L401.4 108.6L402.3 107.5L403.2 107.3L403.8 107.8L404.1 108.3L404.7 110.1L406.3 118.2L407.8 130.6L412.0 171.2L413.6 182.9L414.8 190.3L416.3 197.1L417.8 201.6L418.7 203.5L419.6 204.8L421.5 206.4L423.0 207.0L425.1 207.2L433.0 205.6L434.9 205.5L436.7 205.7L439.7 206.5L446.1 209.3L449.5 210.5L453.4 211.3L458.6 211.8L472.6 212.4L492.6 212.9L513.3 213.1L526.7 213.0L533.4 212.7L539.5 212.2L544.9 211.5L550.1 210.6L556.5 209.1L564.7 206.7L573.2 204.2L577.2 202.6L580.2 200.7L582.7 198.3L585.1 194.8L587.2 190.6L589.0 186.1L590.9 180.7L598.2 156.4L599.7 152.3L601.2 149.0L602.7 146.6L604.3 145.0L605.8 144.0L609.1 142.7L610.6 141.4L612.2 139.1L613.7 135.3L615.8 127.1L618.2 113.2L620.4 97.7L624.9 61.4L627.1 47.3L628.3 41.2L629.5 36.9L630.1 35.5L630.7 34.7L631.3 34.4L631.6 34.4L631.9 34.7L632.5 35.9L633.4 39.4L634.4 44.9L635.6 54.9L637.7 78.2L643.5 150.4L645.6 171.3L647.4 185.2L648.7 192.4L649.9 198.0L651.1 202.4L652.3 205.7L653.8 208.7L655.3 210.6L657.2 212.0L659.3 212.8" fill="none" stroke="#55f5f5" stroke-width="1.0" stroke-linejoin="round"/></g><line x1="438.6" y1="48.70" x2="458.2" y2="48.70" stroke="#000000" stroke-width="1.1"/><text x="460.8" y="51.80" font-size="8.6" fill="#111">Ab-AZ405</text><line x1="438.6" y1="59.35" x2="458.2" y2="59.35" stroke="#ff0000" stroke-width="1.1"/><text x="460.8" y="62.45" font-size="8.6" fill="#111">Ab-AZ430</text><line x1="438.6" y1="70.00" x2="458.2" y2="70.00" stroke="#00ee00" stroke-width="1.1"/><text x="460.8" y="73.10" font-size="8.6" fill="#111">Ab-AZ488</text><line x1="438.6" y1="80.65" x2="458.2" y2="80.65" stroke="#0000ff" stroke-width="1.1"/><text x="460.8" y="83.75" font-size="8.6" fill="#111">Ab-AZ532</text><line x1="438.6" y1="91.30" x2="458.2" y2="91.30" stroke="#ff00ff" stroke-width="1.1"/><text x="460.8" y="94.40" font-size="8.6" fill="#111">Ab-AZ546</text><line x1="438.6" y1="101.95" x2="458.2" y2="101.95" stroke="#ff8000" stroke-width="1.1"/><text x="460.8" y="105.05" font-size="8.6" fill="#111">Ab-AZ568</text><line x1="438.6" y1="112.60" x2="458.2" y2="112.60" stroke="#404040" stroke-width="1.1"/><text x="460.8" y="115.70" font-size="8.6" fill="#111">Ab-AZ594</text><line x1="438.6" y1="123.25" x2="458.2" y2="123.25" stroke="#4b4ba8" stroke-width="1.1"/><text x="460.8" y="126.35" font-size="8.6" fill="#111">Ab-AZ647</text><line x1="438.6" y1="133.90" x2="458.2" y2="133.90" stroke="#55f5f5" stroke-width="1.1"/><text x="460.8" y="137.00" font-size="8.6" fill="#111">Ab-Cy5</text>
</svg></body></html>
